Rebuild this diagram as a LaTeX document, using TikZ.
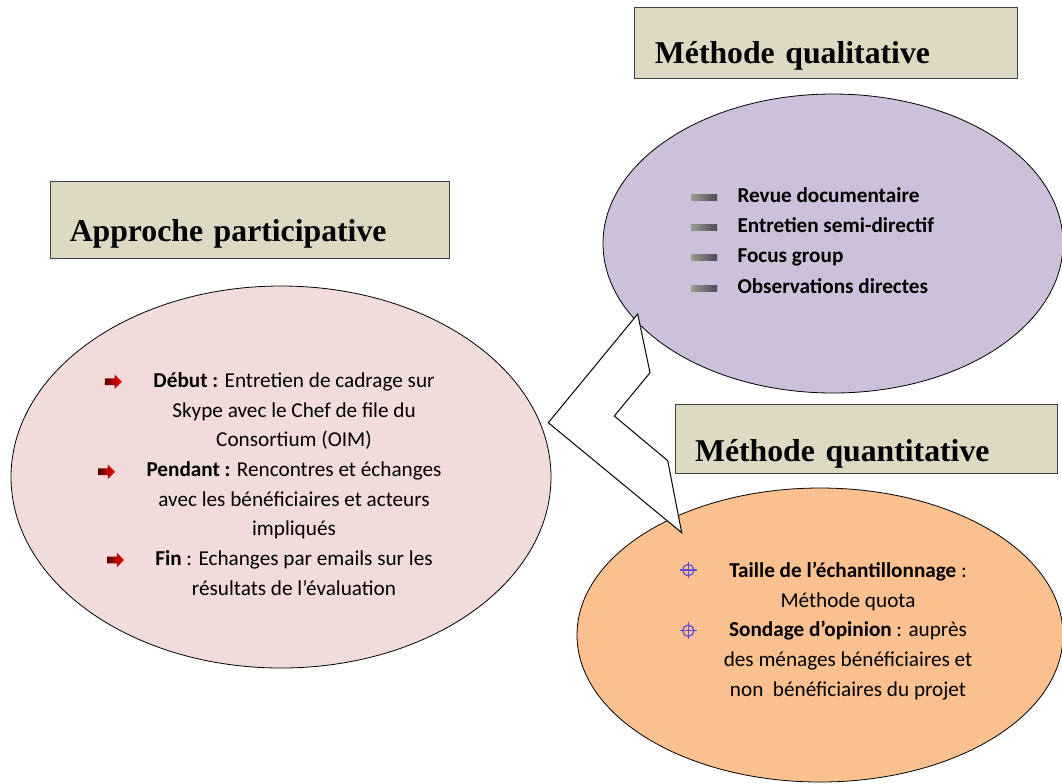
\documentclass[tikz,border=0pt]{standalone}
\usepackage{fontspec}
\setmainfont{Carlito}
\newfontfamily\titlefont{Liberation Serif}
\usepackage{xcolor}
\usetikzlibrary{shapes.geometric, shapes.arrows, positioning, calc}

\definecolor{boxfill}{HTML}{DDD9C3}
\definecolor{pinkfill}{HTML}{F2DCDB}
\definecolor{lilacfill}{HTML}{CCC0DA}
\definecolor{orangefill}{HTML}{FAC090}
\definecolor{targetblue}{HTML}{5A50D8}
\definecolor{picleft}{HTML}{9A9C8E}
\definecolor{picright}{HTML}{4E4858}

\begin{document}
\begin{tikzpicture}[x=0.75pt, y=-0.75pt,
  every node/.style={font=\fontsize{15.9}{22.3}\selectfont},
  titlebox/.style={draw=black!75, line width=0.75pt, fill=boxfill, inner ysep=0pt, align=left,
    font=\fontsize{23.8}{28}\selectfont\titlefont\bfseries},
  bubble/.style={ellipse, draw, line width=0.6pt, inner sep=0pt},
  arrowmark/.style={single arrow, draw=none, inner sep=2.3pt, minimum height=12.75pt,
    single arrow head extend=3pt, left color=red!35!black, right color=red},
  picmark/.style={rectangle, inner sep=0pt, minimum width=19.5pt, minimum height=4.5pt,
    left color=picleft, right color=picright},
  targetmark/.style={circle, draw=targetblue, line width=0.9pt, minimum size=8.5pt, inner sep=0pt},
  qualitem/.style={font=\fontsize{15.9}{22.3}\selectfont\bfseries, inner sep=0pt, text height=11pt, text depth=3pt}]
  \useasboundingbox (0,0) rectangle (1062,783);

  \node[bubble, fill=pinkfill, minimum width=405pt, minimum height=286.5pt] (participe) at (281,477) {};
  \node[bubble, fill=lilacfill, minimum width=345pt, minimum height=224.25pt] (quali) at (833,243.5) {};
  \node[bubble, fill=orangefill, minimum width=364.5pt, minimum height=220.5pt] (quanti) at (820,635) {};

  \draw[line width=0.75pt, fill=white] (637.7,314) -- (650,372.7) -- (614.3,416) -- (667.7,460.7)
    -- (681.7,532.7) -- (548.3,422.7) -- cycle;

  \node[titlebox, inner xsep=15pt, text width=257pt, text height=42pt, text depth=11.25pt] (qualititle) at (826.3,42.8) {Méthode qualitative};
  \node[titlebox, inner xsep=14.25pt, text width=270.2pt, text height=45pt, text depth=12.2pt] (participetitle) at (249.9,219.9) {Approche participative};
  \node[titlebox, inner xsep=15pt, text width=256.7pt, text height=42.75pt, text depth=9.25pt] (quantititle) at (866.2,438.7) {Méthode quantitative};

  \node[picmark] (revuemark) at (704,197) {};
  \node[picmark] (entretienmark) at (704,227) {};
  \node[picmark] (focusmark) at (704,257) {};
  \node[picmark] (observmark) at (704,288) {};
  \node[qualitem, right=15pt of revuemark] (revue) {Revue documentaire};
  \node[qualitem, right=15pt of entretienmark] (entretien) {Entretien semi-directif};
  \node[qualitem, right=15pt of focusmark] (focus) {Focus group};
  \node[qualitem, right=15pt of observmark] (observ) {Observations directes};

  \node[arrowmark] (debutmark) at (111.7,381.7) {};
  \node[arrowmark] (pendantmark) at (105,471.7) {};
  \node[arrowmark] (finmark) at (114,560) {};
  \node[align=center] (participetext) at (294,484) {\textbf{Début :} Entretien de cadrage sur\\
    Skype avec le Chef de file du\\ Consortium (OIM)\\ \textbf{Pendant :} Rencontres et échanges\\
    avec les bénéficiaires et acteurs\\ impliqués\\ \textbf{Fin} : Echanges par emails sur les\\
    résultats de l’évaluation};

  \node[targetmark] (taillemark) at (688.3,570) {};
  \node[targetmark] (sondagemark) at (688.3,630.7) {};
  \foreach \m in {taillemark, sondagemark}
    \draw[targetblue, line width=0.9pt] ($(\m.north)+(0,-2)$) -- ($(\m.south)+(0,2)$)
      ($(\m.west)+(-2,0)$) -- ($(\m.east)+(2,0)$);
  \node[align=center] (quantitext) at (848,631) {\textbf{Taille de l’échantillonnage} :\\ Méthode quota\\
    \textbf{Sondage d’opinion} : auprès\\ des ménages bénéficiaires et\\ non~ bénéficiaires du projet};
\end{tikzpicture}
\end{document}
